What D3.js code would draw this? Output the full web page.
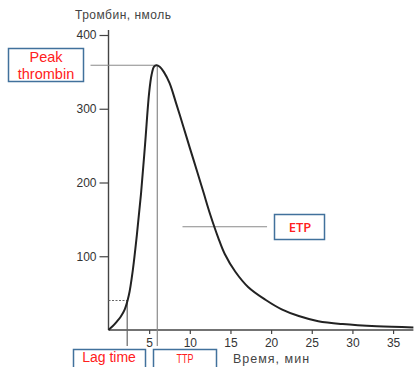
<!DOCTYPE html>
<html>
<head>
<meta charset="utf-8">
<script src="https://cdn.jsdelivr.net/npm/d3@7"></script>
<style>
  body { margin: 0; background: #fff; }
  svg { display: block; font-family: "Liberation Sans", Arial, sans-serif; }
</style>
</head>
<body>
<svg id="viz"></svg>
<script>
// thrombin generation curve
const minutes = [0, 0.5, 1.0, 1.5, 2.0, 2.5, 3.0, 3.5, 4.0, 4.5, 5.0, 5.3, 5.6, 5.9, 6.3, 6.8, 7.5, 8.3, 9.2, 10.0, 10.9, 11.7, 12.5, 13.5, 14.3, 15.6, 17.2, 19.3, 21.3, 23.4, 25.8, 28.8, 33.0, 37.5];
const thrombin = [0, 5, 11, 18, 28, 47, 82, 130, 185, 252, 322, 346, 357, 359, 357, 350, 335, 308, 276, 247, 215, 186, 157, 125, 103, 79, 58, 41, 28, 19, 12, 8, 5, 3.5];

const xTicks = [5, 10, 15, 20, 25, 30, 35];
const yTicks = [100, 200, 300, 400];

// marker values
const peakTime = 6.0, peakValue = 359;
const lagTime = 2.3, lagValue = 40;
const etpValue = 140, etpFrom = 9.1, etpTo = 19.5;

const width = 419, height = 367;
const margin = { top: 35, right: 6, bottom: 37, left: 108.5 };

const svg = d3.select("#viz")
    .attr("width", width)
    .attr("height", height)
    .attr("viewBox", [0, 0, width, height]);

const x = d3.scaleLinear()
    .domain([0, 37.5])
    .range([margin.left, 413.4]);

const y = d3.scaleLinear()
    .domain([0, 400])
    .range([height - margin.bottom, margin.top]);

const textColor = "#333";
const refColor = "#8a8a8a";

// axes
const xAxis = svg.append("g")
    .attr("transform", `translate(0,${y(0)})`)
    .call(d3.axisBottom(x).tickValues(xTicks).tickSize(4).tickPadding(4))
    .call(g => g.select(".domain").remove());

const yAxis = svg.append("g")
    .attr("transform", `translate(${x(0)},0)`)
    .call(d3.axisLeft(y).tickValues(yTicks).tickSize(9).tickPadding(3))
    .call(g => g.select(".domain").remove());

[xAxis, yAxis].forEach(a => {
    a.selectAll("text").attr("fill", textColor).attr("font-size", 12);
    a.selectAll("line").attr("stroke", "#444").attr("stroke-width", 1.2);
});

svg.append("line")
    .attr("x1", x(0)).attr("x2", x(0))
    .attr("y1", y(0)).attr("y2", y(400) - 5)
    .attr("stroke", "#444").attr("stroke-width", 1.4);

svg.append("line")
    .attr("x1", x(0)).attr("x2", x.range()[1])
    .attr("y1", y(0)).attr("y2", y(0))
    .attr("stroke", "#444").attr("stroke-width", 1.4);

// axis titles
svg.append("text")
    .attr("x", 75).attr("y", 19)
    .attr("fill", "#444").attr("font-size", 12)
    .attr("letter-spacing", 0.5)
    .text("Тромбин, нмоль");

svg.append("text")
    .attr("x", 233).attr("y", 363)
    .attr("fill", "#444").attr("font-size", 12.5)
    .attr("letter-spacing", 1)
    .text("Время, мин");

// reference lines
svg.append("line")
    .attr("x1", x(0) - 18).attr("x2", x(peakTime))
    .attr("y1", y(peakValue)).attr("y2", y(peakValue))
    .attr("stroke", refColor).attr("stroke-width", 1);

svg.append("line")
    .attr("x1", x(peakTime)).attr("x2", x(peakTime))
    .attr("y1", y(peakValue)).attr("y2", y(0) + 16)
    .attr("stroke", refColor).attr("stroke-width", 1.2);

svg.append("line")
    .attr("x1", x(lagTime)).attr("x2", x(lagTime))
    .attr("y1", y(lagValue)).attr("y2", y(0) + 16)
    .attr("stroke", "#666").attr("stroke-width", 1.2);

svg.append("line")
    .attr("x1", x(0)).attr("x2", x(lagTime))
    .attr("y1", y(lagValue)).attr("y2", y(lagValue))
    .attr("stroke", "#666").attr("stroke-width", 1)
    .attr("stroke-dasharray", "2,1.5");

svg.append("line")
    .attr("x1", x(etpFrom)).attr("x2", x(etpTo))
    .attr("y1", y(etpValue)).attr("y2", y(etpValue))
    .attr("stroke", refColor).attr("stroke-width", 1);

// curve
const pts = minutes.map((t, i) => [t, thrombin[i]]);
svg.append("path")
    .datum(pts)
    .attr("fill", "none")
    .attr("stroke", "#222")
    .attr("stroke-width", 2)
    .attr("d", d3.line().x(d => x(d[0])).y(d => y(d[1])).curve(d3.curveCatmullRom.alpha(0.5)));

// callout boxes
const boxStroke = "#41719C";
const labelRed = "#ff2020";

function box(x0, y0, w, h) {
    svg.append("rect")
        .attr("x", x0).attr("y", y0)
        .attr("width", w).attr("height", h)
        .attr("fill", "#fff")
        .attr("stroke", boxStroke)
        .attr("stroke-width", 1.5);
}

box(8.5, 48.5, 75, 33);
svg.append("text")
    .attr("x", 46).attr("y", 62)
    .attr("text-anchor", "middle")
    .attr("fill", labelRed).attr("font-size", 14.5)
    .text("Peak");
svg.append("text")
    .attr("x", 46).attr("y", 78.5)
    .attr("text-anchor", "middle")
    .attr("fill", labelRed).attr("font-size", 14.5)
    .text("thrombin");

box(73.5, 349.5, 72, 30);
svg.append("text")
    .attr("x", 109).attr("y", 362)
    .attr("text-anchor", "middle")
    .attr("fill", labelRed).attr("font-size", 14)
    .text("Lag time");

box(153.5, 349.5, 63, 30);
svg.append("text")
    .attr("x", 185).attr("y", 363)
    .attr("text-anchor", "middle")
    .attr("fill", labelRed).attr("font-size", 12)
    .attr("textLength", 17).attr("lengthAdjust", "spacingAndGlyphs")
    .text("TTP");

box(274.5, 214.5, 50, 25);
svg.append("text")
    .attr("x", 300).attr("y", 232)
    .attr("text-anchor", "middle")
    .attr("fill", labelRed).attr("font-size", 13)
    .attr("font-weight", 600)
    .attr("font-family", "'Open Sans', sans-serif")
    .text("ETP");
</script>
</body>
</html>
